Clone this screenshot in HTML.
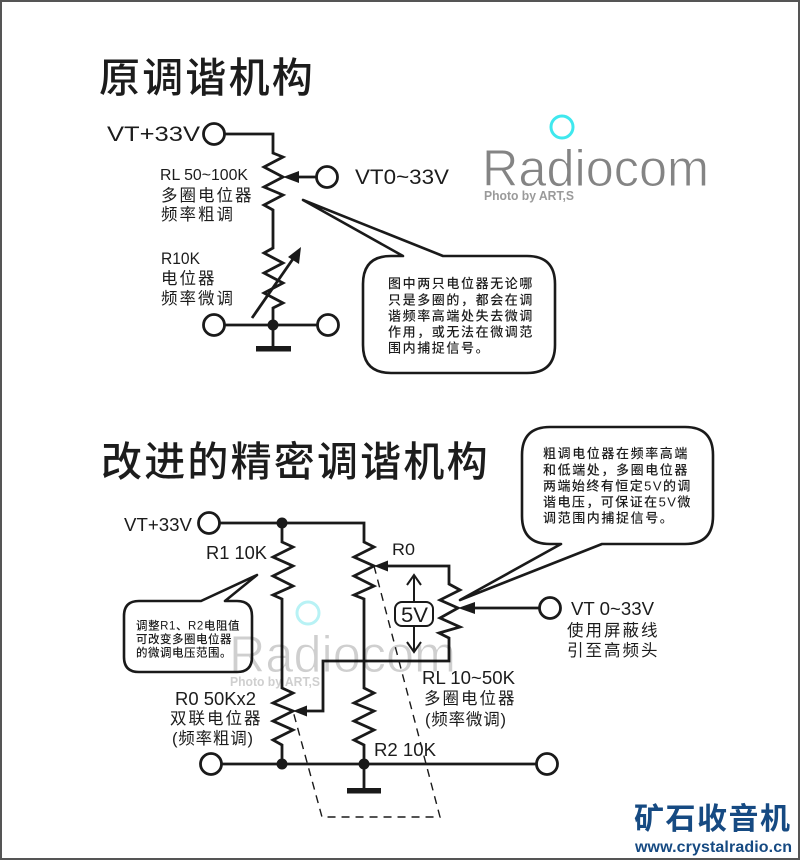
<!DOCTYPE html>
<html><head><meta charset="utf-8"><style>
html,body{margin:0;padding:0;background:#fff}
svg{display:block}
text{font-family:"Liberation Sans","Noto Sans CJK SC",sans-serif;fill:#1c1c1c}
.w{fill:none;stroke:#1a1a1a;stroke-width:2.8;stroke-linejoin:miter}
.c{fill:#fff;stroke:#1a1a1a;stroke-width:2.8}
.b{fill:#fff;stroke:#1a1a1a;stroke-width:2.6;stroke-linejoin:round}
.n{fill:#1a1a1a}
.l{font-size:16.5px;letter-spacing:2px}
.p{font-size:16.5px;letter-spacing:.8px}
.t{font-size:13px;letter-spacing:1.6px;font-weight:500}
.s{font-size:11.5px;letter-spacing:.5px;font-weight:500}
.h{font-size:41px;letter-spacing:2.2px;font-weight:500}
.wm{mix-blend-mode:multiply}
</style></head><body>
<svg width="800" height="860" viewBox="0 0 800 860" xmlns="http://www.w3.org/2000/svg">
<rect width="800" height="860" fill="#fff"/>
<rect x="1" y="1" width="798" height="858" fill="none" stroke="#555" stroke-width="2"/>

<text x="99" y="92" class="h">原调谐机构</text>
<text x="101" y="476" class="h">改进的精密调谐机构</text>

<!-- top circuit -->
<path class="w" d="M224 134H273V153L283 157L264 167L283 177L264 187L283 195L264 205L273 210V248L264 253L283 263L264 273L283 283L264 293L283 303L273 308V347"/>
<path class="w" d="M224 325H318"/>
<path class="w" d="M317 177H295"/>
<path class="n" d="M283 177L299 171V183Z"/>
<path class="w" d="M252 318L295 256"/>
<path class="n" d="M301 247L299 264L288 257Z"/>
<circle class="n" cx="273" cy="325" r="5.5"/>
<rect class="n" x="256" y="346" width="35" height="5.5"/>
<circle class="c" cx="214" cy="134" r="10.5"/>
<circle class="c" cx="214" cy="325" r="10.5"/>
<circle class="c" cx="328" cy="325" r="10.5"/>
<circle class="c" cx="327" cy="177" r="10.5"/>

<text x="107" y="141" font-size="21" textLength="93" lengthAdjust="spacingAndGlyphs">VT+33V</text>
<text x="355" y="184" font-size="21" textLength="94" lengthAdjust="spacingAndGlyphs">VT0~33V</text>
<text x="160" y="180" font-size="16" textLength="88" lengthAdjust="spacingAndGlyphs">RL 50~100K</text>
<text x="161" y="201" class="l">多圈电位器</text>
<text x="161" y="220" class="l">频率粗调</text>
<text x="161" y="264" font-size="17" textLength="39" lengthAdjust="spacingAndGlyphs">R10K</text>
<text x="161" y="284" class="l">电位器</text>
<text x="161" y="304" class="l">频率微调</text>

<!-- callout 1 -->
<path class="b" d="M391 256H403L303 200L443 256H527Q555 256 555 284V345Q555 373 527 373H391Q363 373 363 345V284Q363 256 391 256Z"/>
<text x="388" y="288" class="t">图中两只电位器无论哪</text>
<text x="388" y="304.500" class="t">只是多圈的，都会在调</text>
<text x="388" y="320.500" class="t">谐频率高端处失去微调</text>
<text x="388" y="336.500" class="t">作用，或无法在微调范</text>
<text x="388" y="352.500" class="t">围内捕捉信号。</text>

<!-- bottom circuit -->
<path d="M374 566L440 817H322L293 711" fill="none" stroke="#1a1a1a" stroke-width="1.4" stroke-dasharray="8 6"/>
<path class="w" d="M220 523H364V542L374 547L354 557L374 566L354 576L374 586L354 595L364 599V688L374 693L354 703L374 711L354 721L374 730L354 740L364 745V790"/>
<path class="w" d="M282 523V542L293 547L273 557L293 566L273 576L293 586L273 595L282 599V688L293 693L273 703L293 711L273 721L293 730L273 740L282 745V764"/>
<path class="w" d="M222 764H536"/>
<path class="w" d="M305 711H323V661H449V638L439 633L460 627L440 618L458 608L440 600L460 590L449 584V566H386"/>
<path class="w" d="M470 608H539"/>
<path class="n" d="M293 711L307 705.500V716.500Z"/>
<path class="n" d="M374 566L388 560.500V571.500Z"/>
<path class="n" d="M458 608L475 602V614Z"/>
<circle class="n" cx="282" cy="523" r="5.5"/>
<circle class="n" cx="282" cy="764" r="5.5"/>
<circle class="n" cx="364" cy="764" r="5.5"/>
<rect class="n" x="347" y="788" width="34" height="5.500"/>
<circle class="c" cx="209" cy="523" r="10.5"/>
<circle class="c" cx="211" cy="764" r="10.5"/>
<circle class="c" cx="547" cy="764" r="10.5"/>
<circle class="c" cx="550" cy="608" r="10.5"/>
<path class="w" style="stroke-width:2" d="M414 602V576M407 585L414 575L421 585M414 626V651M407 642L414 652L421 642"/>
<rect x="395" y="602" width="38" height="24" rx="7" fill="#fff" stroke="#1a1a1a" stroke-width="2"/>
<text x="401" y="622" font-size="21" textLength="27" lengthAdjust="spacingAndGlyphs">5V</text>

<text x="124" y="531" font-size="18.500" textLength="68" lengthAdjust="spacingAndGlyphs">VT+33V</text>
<text x="206" y="559" font-size="18" textLength="61" lengthAdjust="spacingAndGlyphs">R1 10K</text>
<text x="392" y="555" font-size="17" textLength="23" lengthAdjust="spacingAndGlyphs">R0</text>
<text x="175" y="705" font-size="18" textLength="81" lengthAdjust="spacingAndGlyphs">R0 50Kx2</text>
<text x="170" y="724" class="l">双联电位器</text>
<text x="172" y="744" class="p">(频率粗调)</text>
<text x="374" y="756" font-size="18" textLength="62" lengthAdjust="spacingAndGlyphs">R2 10K</text>
<text x="571" y="615" font-size="18" textLength="83" lengthAdjust="spacingAndGlyphs">VT 0~33V</text>
<text x="567" y="636" class="l">使用屏蔽线</text>
<text x="567" y="656" class="l">引至高频头</text>
<text x="422" y="684" font-size="18" textLength="93" lengthAdjust="spacingAndGlyphs">RL 10~50K</text>
<text x="424" y="704" class="l">多圈电位器</text>
<text x="425" y="725" class="p">(频率微调)</text>

<!-- callout 2 -->
<path class="b" d="M550 427H685Q713 427 713 455V516Q713 544 685 544H602L460 600L561 544H550Q522 544 522 516V455Q522 427 550 427Z"/>
<text x="543" y="458" class="t">粗调电位器在频率高端</text>
<text x="543" y="474.500" class="t">和低端处，多圈电位器</text>
<text x="543" y="490.500" class="t" textLength="149" lengthAdjust="spacing">两端始终有恒定5V的调</text>
<text x="543" y="506.500" class="t" textLength="149" lengthAdjust="spacing">谐电压，可保证在5V微</text>
<text x="543" y="522.500" class="t">调范围内捕捉信号。</text>

<!-- callout 3 -->
<path class="b" d="M139 601H201L257 575L225 601H237Q252 601 252 616V657Q252 672 237 672H139Q124 672 124 657V616Q124 601 139 601Z"/>
<text x="136" y="629.500" class="s" textLength="104" lengthAdjust="spacing">调整R1、R2电阻值</text>
<text x="136" y="643" class="s">可改变多圈电位器</text>
<text x="136" y="656.500" class="s">的微调电压范围。</text>

<!-- watermarks -->
<circle cx="562" cy="127" r="11" fill="none" stroke="#3fe8ee" stroke-width="3"/>
<text x="482" y="186" font-size="52" textLength="227" lengthAdjust="spacingAndGlyphs" style="fill:#848484;stroke:#fff;stroke-width:.9px">Radiocom</text>
<text x="484" y="200" font-size="12.5" font-weight="700" textLength="90" lengthAdjust="spacingAndGlyphs" style="fill:#9a9a9a">Photo by ART,S</text>
<circle class="wm" cx="308" cy="613" r="11" fill="none" stroke="#b8f2f5" stroke-width="3"/>
<text class="wm" x="229" y="672" font-size="52" textLength="227" lengthAdjust="spacingAndGlyphs" style="fill:#cfcfcf;stroke:#fff;stroke-width:.9px">Radiocom</text>
<text class="wm" x="230" y="686" font-size="12.5" font-weight="700" textLength="90" lengthAdjust="spacingAndGlyphs" style="fill:#cfcfcf">Photo by ART,S</text>

<!-- logo -->
<text x="634" y="829" font-size="30" font-weight="700" letter-spacing="1.500" style="fill:#164a82">矿石收音机</text>
<text x="635" y="852" font-size="16" font-weight="700" textLength="157" lengthAdjust="spacing" style="fill:#164a82">www.crystalradio.cn</text>
</svg>
</body></html>
